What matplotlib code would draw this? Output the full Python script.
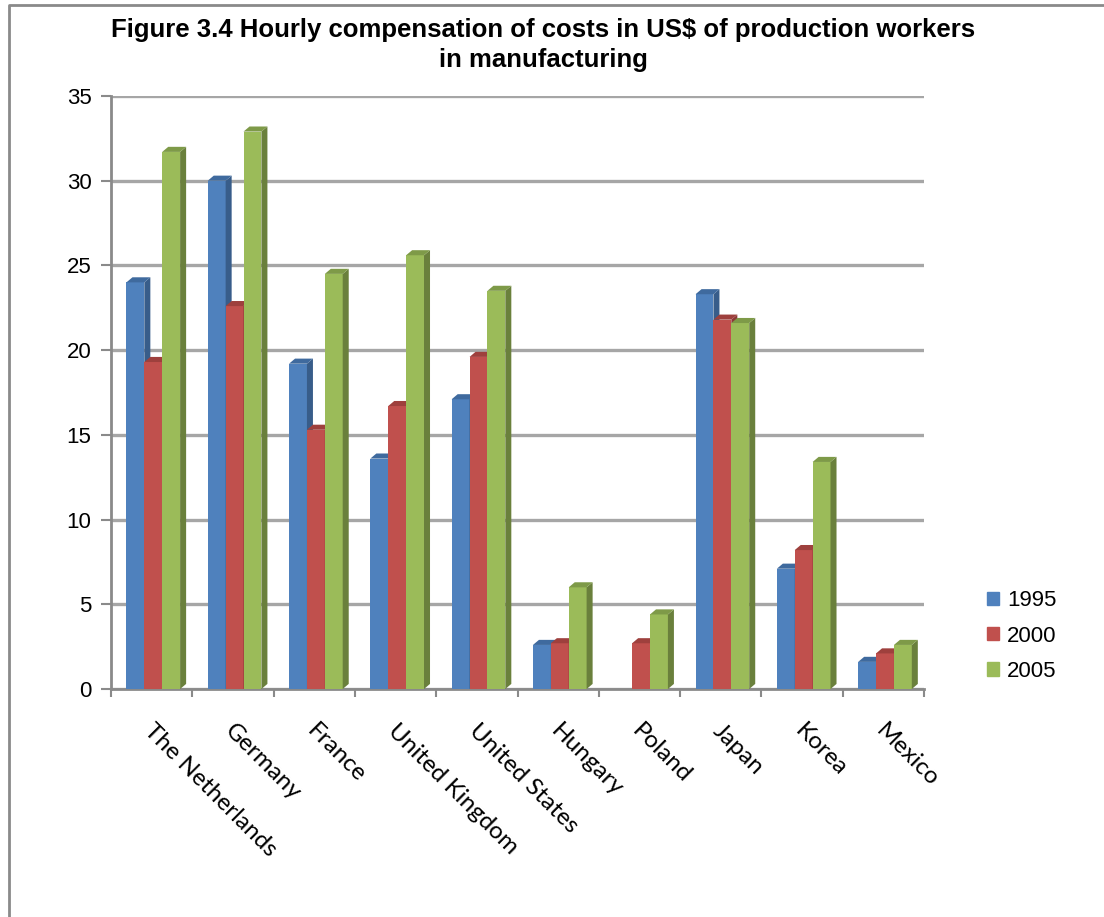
import numpy as np
import matplotlib
matplotlib.use("Agg")
import matplotlib.pyplot as plt
from matplotlib.patches import Polygon, Patch
from matplotlib.lines import Line2D
from matplotlib.transforms import ScaledTranslation

countries = ["The Netherlands", "Germany", "France", "United Kingdom", "United States",
             "Hungary", "Poland", "Japan", "Korea", "Mexico"]
years = ["1995", "2000", "2005"]
v1995 = [24.0, 30.0, 19.2, 13.6, 17.1, 2.6, np.nan, 23.3, 7.1, 1.6]
v2000 = [19.3, 22.6, 15.3, 16.7, 19.6, 2.7, 2.7, 21.8, 8.2, 2.1]
v2005 = [31.7, 32.9, 24.5, 25.6, 23.5, 6.0, 4.4, 21.6, 13.4, 2.6]

front = ["#4F81BD", "#C0504D", "#9BBB59"]
side = ["#385D8A", "#8C3836", "#6A803C"]
top = ["#3F6A9E", "#9E403D", "#7E9A48"]

fig = plt.figure(figsize=(11.04, 9.17), dpi=100)
ax = fig.add_axes([111 / 1104, 1 - 689 / 917, 813 / 1104, 593 / 917])

# border (only top and left edges visible in the crop)
fig.add_artist(Line2D([9 / 1104, 9 / 1104, 1.0], [0.0, 1 - 5 / 917, 1 - 5 / 917],
                      transform=fig.transFigure, color="#8a8a8a", lw=2))

x = np.arange(len(countries))
w = 0.22
dx, dy = 0.074, 0.3   # fake 3d depth
for k, vals in enumerate([v1995, v2000, v2005]):
    left = x + 0.5 + (k - 1.5) * w + 0.02
    ax.bar(left, vals, width=w, align="edge", color=front[k], zorder=3, lw=0)
    for xl, v in zip(left, vals):
        if np.isnan(v):
            continue
        xr = xl + w
        ax.add_patch(Polygon([(xr, 0), (xr + dx, dy), (xr + dx, v + dy), (xr, v)],
                             closed=True, color=side[k], lw=0, zorder=3))
        ax.add_patch(Polygon([(xl, v), (xl + dx, v + dy), (xr + dx, v + dy), (xr, v)],
                             closed=True, color=top[k], lw=0, zorder=3))

ax.set_xlim(0, 10)
ax.set_ylim(0, 35)
ax.set_yticks(np.arange(0, 36, 5))
ax.yaxis.grid(True, color="#a6a6a6", lw=2.4, zorder=0)
ax.set_axisbelow(True)

ax.set_xticks(np.arange(0, 11))
ax.set_xticklabels([])
ax.set_xticks(x + 0.5, countries, minor=True)
ax.tick_params(axis="x", which="minor", length=0, pad=28, labelsize=17.5)
ax.tick_params(axis="x", which="major", length=6, width=1.5, color="#8a8a8a")
ax.tick_params(axis="y", length=7, width=1.5, color="#8a8a8a", pad=7, labelsize=16)
for lab in ax.get_xticklabels(minor=True):
    lab.set_rotation(-45)
    lab.set_rotation_mode("anchor")
    lab.set_ha("left")
    lab.set_va("center")
    lab.set_fontfamily("Lato")
    lab.set_transform(lab.get_transform() + ScaledTranslation(-3 / 72, 0, fig.dpi_scale_trans))
for lab in ax.get_yticklabels():
    lab.set_fontfamily("Liberation Sans")

for s in ["top", "right"]:
    ax.spines[s].set_visible(False)
for s in ["left", "bottom"]:
    ax.spines[s].set_color("#8a8a8a")
    ax.spines[s].set_linewidth(2)

fig.text(543 / 1104, 1 - 18 / 917,
         "Figure 3.4 Hourly compensation of costs in US$ of production workers\nin manufacturing",
         ha="center", va="top", fontsize=18.5, fontweight="bold", family="Liberation Sans",
         linespacing=1.3)

handles = [Patch(color=c) for c in front]
fig.legend(handles, years, loc="center left", bbox_to_anchor=(976 / 1104, 1 - 636 / 917),
           frameon=False, handlelength=0.55, handleheight=0.55,
           handletextpad=0.35, labelspacing=0.65, borderpad=0,
           prop={"family": "Liberation Sans", "size": 16})

fig.savefig("out.png", dpi=100)
